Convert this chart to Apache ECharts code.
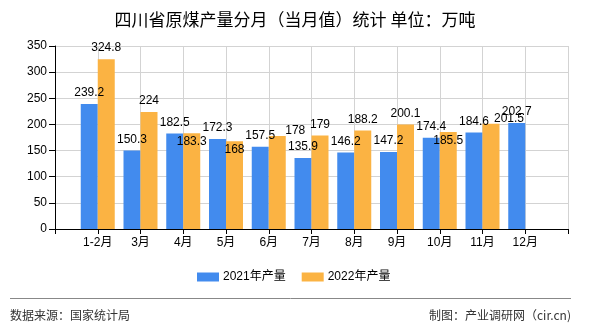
<!DOCTYPE html>
<html>
<head>
<meta charset="utf-8">
<script src="https://cdn.jsdelivr.net/npm/echarts@6/dist/echarts.min.js"></script>
<style>
html,body{margin:0;padding:0;background:#fff;}
#chart{width:590px;height:330px;}
</style>
</head>
<body>
<div id="chart"></div>
<script>
// ---- data ----
var months = ['1-2月', '3月', '4月', '5月', '6月', '7月', '8月', '9月', '10月', '11月', '12月'];
var prod2021 = [239.2, 150.3, 182.5, 172.3, 157.5, 135.9, 146.2, 147.2, 174.4, 184.6, 202.7];
var prod2022 = [324.8, 224, 183.3, 168, 178, 179, 188.2, 200.1, 185.5, 201.5, null];
var seriesNames = ['2021年产量', '2022年产量'];
var yTicks = [0, 50, 100, 150, 200, 250, 300, 350];

// padded category axis: an empty slot before and after the months
var categories = [''].concat(months, ['']);
function pad(arr) { return [null].concat(arr, [null]); }

var FONT = '"Liberation Sans", "Noto Sans CJK SC", sans-serif';
var CJK = '"Noto Sans CJK SC", sans-serif';
var chart = echarts.init(document.getElementById('chart'), null, {renderer: 'canvas'});

function layout2022(params) {
  var i = params.dataIndex - 1;
  var a = prod2021[i], b = prod2022[i];
  if (a == null || b == null) return {};
  var d = Math.abs(b - a);
  if (d < 12) return {dy: 19.5};
  if (d < 25) return {dx: 18, dy: 6};
  return {};
}

var option = {
  animation: false,
  backgroundColor: '#fff',
  title: [{
    text: '四川省原煤产量分月（当月值）统计 单位：万吨',
    left: 'center', top: 6,
    textStyle: {fontSize: 17, fontWeight: 'normal', color: '#000', fontFamily: CJK}
  }, {
    text: '数据来源：国家统计局',
    left: 5, top: 304,
    textStyle: {fontSize: 12, fontWeight: 'normal', color: '#333', fontFamily: CJK}
  }, {
    text: '制图：产业调研网（cir.cn)',
    right: 14, top: 304,
    textStyle: {fontSize: 12, fontWeight: 'normal', color: '#333', fontFamily: CJK}
  }],
  graphic: [{
    type: 'line', silent: true,
    shape: {x1: 10, y1: 298.5, x2: 571, y2: 298.5},
    style: {stroke: '#888', lineWidth: 1}
  }],
  legend: {
    data: seriesNames,
    left: 192, top: 266,
    itemWidth: 22, itemHeight: 9, itemGap: 16,
    icon: 'rect',
    textStyle: {fontSize: 12, color: '#000', fontFamily: FONT, padding: [0, 0, 0, -1]}
  },
  grid: {left: 55, right: 22, top: 46, bottom: 101, containLabel: false},
  xAxis: {
    type: 'category',
    data: categories,
    boundaryGap: false,
    axisLine: {show: true, lineStyle: {color: '#000', width: 1}},
    axisTick: {show: true, length: 5, lineStyle: {color: '#000'}},
    axisLabel: {fontSize: 12, color: '#000', fontFamily: FONT, margin: 8, interval: 0},
    splitLine: {show: true, lineStyle: {color: '#d3d3d3', width: 1}}
  },
  yAxis: {
    type: 'value',
    min: yTicks[0], max: yTicks[yTicks.length - 1], interval: 50,
    axisLine: {show: true, lineStyle: {color: '#000', width: 1}},
    axisTick: {show: true, length: 6, lineStyle: {color: '#000'}},
    axisLabel: {fontSize: 12, color: '#000', fontFamily: FONT, margin: 8},
    splitLine: {show: true, lineStyle: {color: '#d3d3d3', width: 1}}
  },
  series: [{
    name: seriesNames[0],
    type: 'bar',
    data: pad(prod2021),
    barWidth: 17,
    barGap: '0%',
    itemStyle: {color: '#428BEE'},
    label: {show: true, position: 'top', distance: 5, fontSize: 12, color: '#000', fontFamily: FONT}
  }, {
    name: seriesNames[1],
    type: 'bar',
    data: pad(prod2022),
    barWidth: 17,
    barGap: '0%',
    itemStyle: {color: '#FBB343'},
    label: {show: true, position: 'top', distance: 5, fontSize: 12, color: '#000', fontFamily: FONT},
    labelLayout: layout2022
  }]
};
chart.setOption(option);
</script>
</body>
</html>
